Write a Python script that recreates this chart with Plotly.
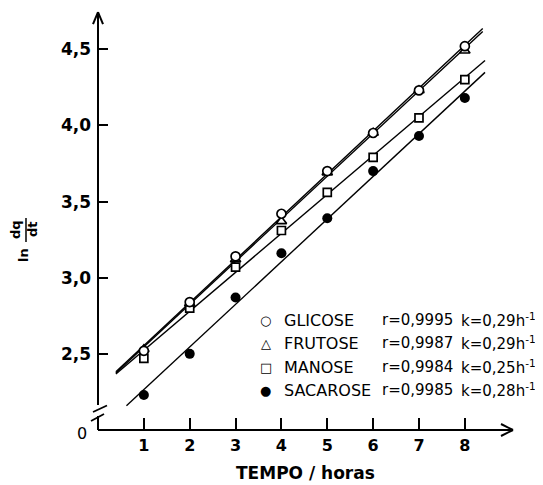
import numpy as np
import plotly.graph_objects as go

# ---- data ----
tempo = [1, 2, 3, 4, 5, 6, 7, 8]
glicose = [2.52, 2.84, 3.14, 3.42, 3.70, 3.95, 4.23, 4.52]
frutose = [2.53, 2.83, 3.12, 3.37, 3.69, 3.95, 4.23, 4.49]
manose = [2.47, 2.80, 3.07, 3.31, 3.56, 3.79, 4.05, 4.30]
sacarose = [2.23, 2.50, 2.87, 3.16, 3.39, 3.70, 3.93, 4.18]

series_names = ["GLICOSE", "FRUTOSE", "MANOSE", "SACAROSE"]
r_values = ["0,9995", "0,9987", "0,9984", "0,9985"]
k_values = ["0,29", "0,29", "0,25", "0,28"]
y_tick_vals = [2.5, 3.0, 3.5, 4.0, 4.5]
y_tick_text = ["2,5", "3,0", "3,5", "4,0", "4,5"]
x_tick_vals = [1, 2, 3, 4, 5, 6, 7, 8]

series = [glicose, frutose, manose, sacarose]

# ---- styling / layout constants ----
FONT = "DejaVu Sans"
X_MAX = 9.05
Y_MIN, Y_MAX = 2.0, 4.7577
fit_start = [0.39, 0.39, 0.39, 0.62]
fit_end = [8.39, 8.39, 8.44, 8.44]
marker_styles = [
    dict(symbol="circle", size=9, color="white", line=dict(color="black", width=1.7)),
    dict(symbol="triangle-up", size=9, color="white", line=dict(color="black", width=1.7)),
    dict(symbol="square", size=8, color="white", line=dict(color="black", width=1.7)),
    dict(symbol="circle", size=10, color="black", line=dict(color="black", width=0)),
]

fig = go.Figure()

# regression lines
for ys, x0, x1 in zip(series, fit_start, fit_end):
    slope, intercept = np.polyfit(tempo, ys, 1)
    xs = [x0, x1]
    fig.add_trace(go.Scatter(x=xs, y=[slope * v + intercept for v in xs], mode="lines",
                             line=dict(color="black", width=1.4), showlegend=False,
                             hoverinfo="skip"))

# markers (draw order: manose, frutose, glicose, sacarose)
for idx in [2, 1, 0, 3]:
    fig.add_trace(go.Scatter(x=tempo, y=series[idx], mode="markers",
                             marker=marker_styles[idx], name=series_names[idx],
                             showlegend=False))

shapes = []
ax_line = dict(color="black", width=2)
P = dict(xref="paper", yref="paper")
PIX = dict(xref="paper", yref="paper", xsizemode="pixel", ysizemode="pixel")
BREAK_LO, BREAK_HI, BREAK_MID = 0.0333, 0.0595, 0.0464
Y_TOP = 0.9952
# x axis with arrow
shapes.append(dict(type="line", **P, x0=0, y0=0, x1=1, y1=0, line=ax_line))
for dy in (6, -6):
    shapes.append(dict(type="line", **PIX, xanchor=1, yanchor=0, x0=0, y0=0, x1=-12, y1=dy, line=ax_line))
# y axis with break and arrow
shapes.append(dict(type="line", **P, x0=0, y0=0, x1=0, y1=BREAK_LO, line=ax_line))
shapes.append(dict(type="line", **P, x0=0, y0=BREAK_HI, x1=0, y1=Y_TOP, line=ax_line))
for dx in (5, -5):
    shapes.append(dict(type="line", **PIX, xanchor=0, yanchor=Y_TOP, x0=0, y0=0, x1=dx, y1=-12, line=ax_line))
# break slashes
shapes.append(dict(type="line", **PIX, xanchor=0, yanchor=BREAK_MID, x0=-5, y0=-1.5, x1=9, y1=5,
                   line=dict(color="black", width=1.8)))
shapes.append(dict(type="line", **PIX, xanchor=0, yanchor=BREAK_MID, x0=-7, y0=-10.5, x1=6, y1=-3.5,
                   line=dict(color="black", width=1.8)))
# fraction bar in y label
shapes.append(dict(type="line", **P, x0=-0.1735, x1=-0.1735, y0=0.4476, y1=0.5048,
                   line=dict(color="black", width=1.5)))

annotations = []
# "0" label at axis origin
annotations.append(dict(xref="x", yref="y", x=0, y=Y_MIN, xshift=-16, yshift=-3, text="0",
                        xanchor="center", yanchor="middle",
                        showarrow=False, font=dict(family=FONT, size=16, color="black")))
# y axis label: ln dq/dt (rotated)
lab_font = dict(family=FONT, size=13, color="black", weight="bold")
for txt, ax, ay in (("ln", -0.1783, 0.4167), ("dq", -0.1976, 0.4786), ("dt", -0.1566, 0.4786)):
    annotations.append(dict(xref="paper", yref="paper", x=ax, y=ay, text=txt, textangle=-90,
                            xanchor="center", yanchor="middle", showarrow=False, font=lab_font))
# x axis title
annotations.append(dict(xref="paper", yref="paper", x=0.4988, y=-0.1024, text="TEMPO / horas",
                        xanchor="center", yanchor="middle",
                        showarrow=False, font=dict(family=FONT, size=17, color="black", weight="bold")))

# legend (drawn as text)
legend_symbols = ["○", "△", "□", "●"]
row_y = [0.2619, 0.2071, 0.1500, 0.0952]
sym_font = dict(family=FONT, size=13, color="black")
leg_font = dict(family=FONT, size=15, color="black")
name_font = dict(family=FONT, size=16, color="black")
for sym, name, rv, kv, yy in zip(legend_symbols, series_names, r_values, k_values, row_y):
    annotations.append(dict(xref="paper", yref="paper", x=0.4048, y=yy, text=sym, xanchor="center",
                            yanchor="middle", showarrow=False, font=sym_font))
    annotations.append(dict(xref="paper", yref="paper", x=0.4506, y=yy, xshift=-3, text=name,
                            xanchor="left", yanchor="middle", showarrow=False, font=name_font))
    annotations.append(dict(xref="paper", yref="paper", x=0.6867, y=yy, xshift=-3, text="r=" + rv,
                            xanchor="left", yanchor="middle", showarrow=False, font=leg_font))
    annotations.append(dict(xref="paper", yref="paper", x=0.8771, y=yy, xshift=-3,
                            text="k=" + kv + "h<sup>-1</sup>", xanchor="left",
                            yanchor="middle", showarrow=False, font=leg_font))

fig.update_layout(
    width=535, height=477,
    margin=dict(l=90, r=30, t=2, b=55, autoexpand=False),
    paper_bgcolor="white", plot_bgcolor="white",
    showlegend=False,
    shapes=shapes, annotations=annotations,
    xaxis=dict(range=[0, X_MAX], showgrid=False, zeroline=False, showline=False,
               tickvals=x_tick_vals, ticks="inside", ticklen=12, tickwidth=1.8, tickcolor="black",
               tickfont=dict(family=FONT, size=16, color="black", weight="bold"),
               ticklabelstandoff=4, automargin=False),
    yaxis=dict(range=[Y_MIN, Y_MAX], showgrid=False, zeroline=False, showline=False,
               tickvals=y_tick_vals, ticktext=y_tick_text, ticks="inside", ticklen=10,
               tickwidth=1.8, tickcolor="black",
               tickfont=dict(family=FONT, size=17, color="black", weight="bold"),
               ticklabelstandoff=6, automargin=False),
)

fig.write_html("out.html")
